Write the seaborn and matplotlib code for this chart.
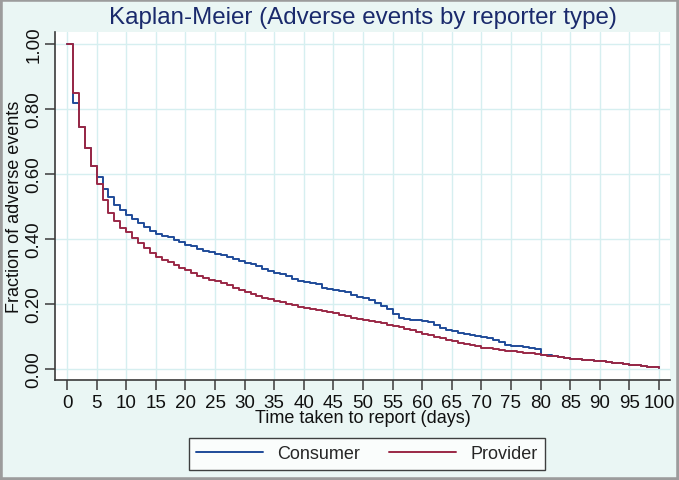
import numpy as np
import pandas as pd
import matplotlib
matplotlib.use("Agg")
import matplotlib.pyplot as plt
import matplotlib.patches as mpatches
import seaborn as sns

days = list(range(0, 101))
consumer = [1.000, 0.820, 0.745, 0.680, 0.625, 0.590, 0.555, 0.528, 0.505, 0.488,
            0.475, 0.462, 0.448, 0.436, 0.425, 0.415, 0.410, 0.405, 0.398, 0.390,
            0.383, 0.377, 0.370, 0.364, 0.360, 0.355, 0.352, 0.345, 0.338, 0.332,
            0.325, 0.322, 0.318, 0.308, 0.300, 0.296, 0.292, 0.285, 0.276, 0.270,
            0.267, 0.264, 0.260, 0.250, 0.246, 0.244, 0.240, 0.236, 0.228, 0.222,
            0.218, 0.212, 0.204, 0.195, 0.185, 0.170, 0.158, 0.155, 0.152, 0.151,
            0.148, 0.145, 0.135, 0.126, 0.120, 0.116, 0.112, 0.108, 0.104, 0.100,
            0.098, 0.094, 0.088, 0.082, 0.075, 0.072, 0.070, 0.068, 0.065, 0.062,
            0.044, 0.042, 0.039, 0.036, 0.033, 0.031, 0.030, 0.028, 0.027, 0.026,
            0.025, 0.021, 0.019, 0.017, 0.015, 0.013, 0.011, 0.009, 0.006, 0.005,
            0.004]
provider = [1.000, 0.850, 0.745, 0.680, 0.625, 0.570, 0.520, 0.480, 0.455, 0.435,
            0.420, 0.402, 0.388, 0.372, 0.358, 0.345, 0.336, 0.328, 0.320, 0.312,
            0.305, 0.296, 0.285, 0.280, 0.275, 0.272, 0.265, 0.258, 0.250, 0.243,
            0.236, 0.230, 0.224, 0.219, 0.214, 0.209, 0.205, 0.200, 0.196, 0.192,
            0.188, 0.184, 0.180, 0.177, 0.174, 0.171, 0.167, 0.162, 0.157, 0.153,
            0.150, 0.147, 0.143, 0.140, 0.136, 0.132, 0.128, 0.124, 0.119, 0.114,
            0.109, 0.104, 0.099, 0.094, 0.089, 0.085, 0.081, 0.078, 0.074, 0.070,
            0.066, 0.063, 0.061, 0.058, 0.056, 0.054, 0.052, 0.050, 0.048, 0.046,
            0.043, 0.041, 0.039, 0.036, 0.033, 0.031, 0.030, 0.028, 0.027, 0.025,
            0.023, 0.021, 0.019, 0.017, 0.015, 0.013, 0.011, 0.009, 0.007, 0.005,
            0.004]
groups = ["Consumer", "Provider"]
x_ticks = list(range(0, 101, 5))
y_ticks = [0.0, 0.2, 0.4, 0.6, 0.8, 1.0]

df = pd.DataFrame({
    "day": days + days,
    "surv": consumer + provider,
    "group": [groups[0]] * len(days) + [groups[1]] * len(days),
})

sns.set_theme(style="white")
plt.rcParams["font.family"] = ["Liberation Sans", "DejaVu Sans"]

bg = "#eaf6f4"
grid_c = "#d6eff0"
spine_c = "#3a3a3a"
fig = plt.figure(figsize=(6.79, 4.81), dpi=100, facecolor=bg)
ax = fig.add_axes([55 / 679, 1 - 381 / 481, 615 / 679, 348 / 481])
ax.set_facecolor("white")

palette = {"Consumer": "#1f4b99", "Provider": "#9a2846"}
sns.lineplot(data=df, x="day", y="surv", hue="group", palette=palette,
             drawstyle="steps-post", linewidth=1.4, ax=ax, legend=False,
             errorbar=None, estimator=None)

ax.set_xlim(-2.03, 101.86)
ax.set_ylim(-0.034, 1.037)
ax.set_xticks(x_ticks)
ax.set_xticklabels([str(t) for t in x_ticks], fontsize=13.5)
ax.set_yticks(y_ticks)
ax.set_yticklabels([f"{t:.2f}" for t in y_ticks], fontsize=13.5, rotation=90, va="center")
ax.grid(True, color=grid_c, linewidth=1.0)
ax.set_axisbelow(True)
for s in ["top", "right"]:
    ax.spines[s].set_visible(False)
for s in ["left", "bottom"]:
    ax.spines[s].set_color(spine_c)
    ax.spines[s].set_linewidth(1.2)
ax.tick_params(axis="both", direction="out", length=7, width=1.1, color=spine_c,
               colors="#111111", bottom=True, left=True)
ax.tick_params(axis="x", pad=3)
ax.tick_params(axis="y", pad=2)

ax.set_xlabel("Time taken to report (days)", fontsize=13, color="#111111", labelpad=-1)
ax.set_ylabel("Fraction of adverse events", fontsize=13, color="#111111", labelpad=2)

fig.text(363 / 679, 1 - 18 / 481, "Kaplan-Meier (Adverse events by reporter type)",
         ha="center", va="center", fontsize=17.4, color="#1a2a6c")

handles = [plt.Line2D([], [], color=palette[g], linewidth=1.4) for g in groups]
leg = fig.legend(handles, groups, loc="center", bbox_to_anchor=(367 / 679, 1 - 455 / 481),
                 ncol=2, fontsize=13, frameon=True, fancybox=False, handlelength=3.7,
                 columnspacing=1.6, handletextpad=0.8, borderpad=0.4)
leg.get_frame().set_edgecolor("#111111")
leg.get_frame().set_linewidth(1.0)
leg.get_frame().set_facecolor("white")

fig.patches.append(mpatches.Rectangle((0, 0), 1, 1, transform=fig.transFigure,
                                      fill=False, edgecolor="#9c9c9c", linewidth=4))

fig.savefig("out.png", dpi=100, facecolor=bg)
